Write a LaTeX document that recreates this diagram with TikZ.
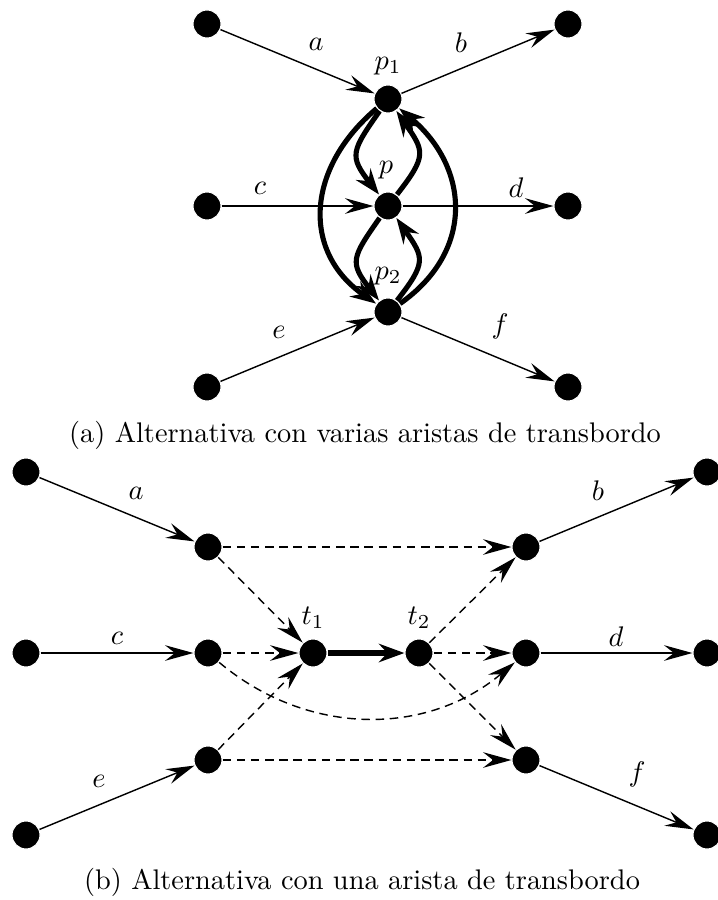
\documentclass[tikz,border=0pt]{standalone}
\usetikzlibrary{arrows.meta}
\begin{document}
\begin{tikzpicture}[x=0.35273pt, y=0.35273pt,
  vtx/.style={circle, fill=black, draw=white, line width=0.4pt, minimum size=9.9pt, inner sep=0pt},
  arr/.style={line width=0.5pt, -{Stealth[length=10pt,width=5.5pt,inset=3.5pt]}},
  dsh/.style={arr, dash pattern=on 3pt off 2pt},
  thk/.style={line width=1.8pt, -{Stealth[length=9pt,width=6.5pt,inset=3pt]}},
  lbl/.style={inner sep=0pt}]
\useasboundingbox (0,0) rectangle (717,-900);
% ---------- part (a)
\node[vtx] (aTL) at (207,-24) {};
\node[vtx] (aML) at (207,-206) {};
\node[vtx] (aBL) at (207,-387) {};
\node[vtx] (aTR) at (568,-24) {};
\node[vtx] (aMR) at (568,-206) {};
\node[vtx] (aBR) at (568,-387) {};
\node[vtx] (p1) at (388,-99) {};
\node[vtx] (p) at (388,-206) {};
\node[vtx] (p2) at (388,-312) {};
\draw[arr] (aTL) -- (p1);
\draw[arr] (p1) -- (aTR);
\draw[arr] (aML) -- (p);
\draw[arr] (p) -- (aMR);
\draw[arr] (aBL) -- (p2);
\draw[arr] (p2) -- (aBR);
\draw[thk] (p1) to[out=220,in=145,looseness=1.2] (p2);
\draw[thk] (p2) to[out=35,in=-40,looseness=1.2] (p1);
\draw[thk] (p1) to[out=235,in=128,looseness=1.5] (p);
\draw[thk] (p) to[out=52,in=-55,looseness=1.5] (p1);
\draw[thk] (p) to[out=235,in=128,looseness=1.5] (p2);
\draw[thk] (p2) to[out=52,in=-55,looseness=1.5] (p);
\node[lbl] (la) at (316,-44) {$a$};
\node[lbl] (lb) at (461,-43) {$b$};
\node[lbl] (lc) at (260,-188) {$c$};
\node[lbl] (ld) at (516,-188) {$d$};
\node[lbl] (le) at (279,-332) {$e$};
\node[lbl] (lf) at (500,-326) {$f$};
\node[lbl] (lp1) at (388,-66) {$p_1$};
\node[lbl] (lp) at (386,-170) {$p$};
\node[lbl] (lp2) at (388,-276) {$p_2$};
\node[lbl] (capa) at (365,-435) {(a) Alternativa con varias aristas de transbordo};
% ---------- part (b)
\node[vtx] (tl) at (26,-472) {};
\node[vtx] (ml) at (26,-653) {};
\node[vtx] (bl) at (26,-835) {};
\node[vtx] (A1) at (208,-547) {};
\node[vtx] (A2) at (208,-653) {};
\node[vtx] (A3) at (208,-760) {};
\node[vtx] (t1) at (313,-653) {};
\node[vtx] (t2) at (419,-653) {};
\node[vtx] (B1) at (526,-547) {};
\node[vtx] (B2) at (526,-653) {};
\node[vtx] (B3) at (526,-760) {};
\node[vtx] (tr) at (707,-472) {};
\node[vtx] (mr) at (707,-653) {};
\node[vtx] (br) at (707,-835) {};
\draw[arr] (tl) -- (A1);
\draw[arr] (ml) -- (A2);
\draw[arr] (bl) -- (A3);
\draw[arr] (B1) -- (tr);
\draw[arr] (B2) -- (mr);
\draw[arr] (B3) -- (br);
\draw[dsh] (A1) -- (B1);
\draw[dsh] (A1) -- (t1);
\draw[dsh] (A2) -- (t1);
\draw[dsh] (A3) -- (t1);
\draw[dsh] (A3) -- (B3);
\draw[dsh] (A2) to[bend right=40] (B2);
\draw[dsh] (t2) -- (B1);
\draw[dsh] (t2) -- (B2);
\draw[dsh] (t2) -- (B3);
\draw[thk] (t1) -- (t2);
\node[lbl] (lba) at (136,-493) {$a$};
\node[lbl] (lbc) at (117,-638) {$c$};
\node[lbl] (lbe) at (99,-781) {$e$};
\node[lbl] (lbb) at (598,-491) {$b$};
\node[lbl] (lbd) at (616,-637) {$d$};
\node[lbl] (lbf) at (637,-774) {$f$};
\node[lbl] (lt1) at (313,-618) {$t_1$};
\node[lbl] (lt2) at (419,-618) {$t_2$};
\node[lbl] (capb) at (362,-882) {(b) Alternativa con una arista de transbordo};
\end{tikzpicture}
\end{document}
